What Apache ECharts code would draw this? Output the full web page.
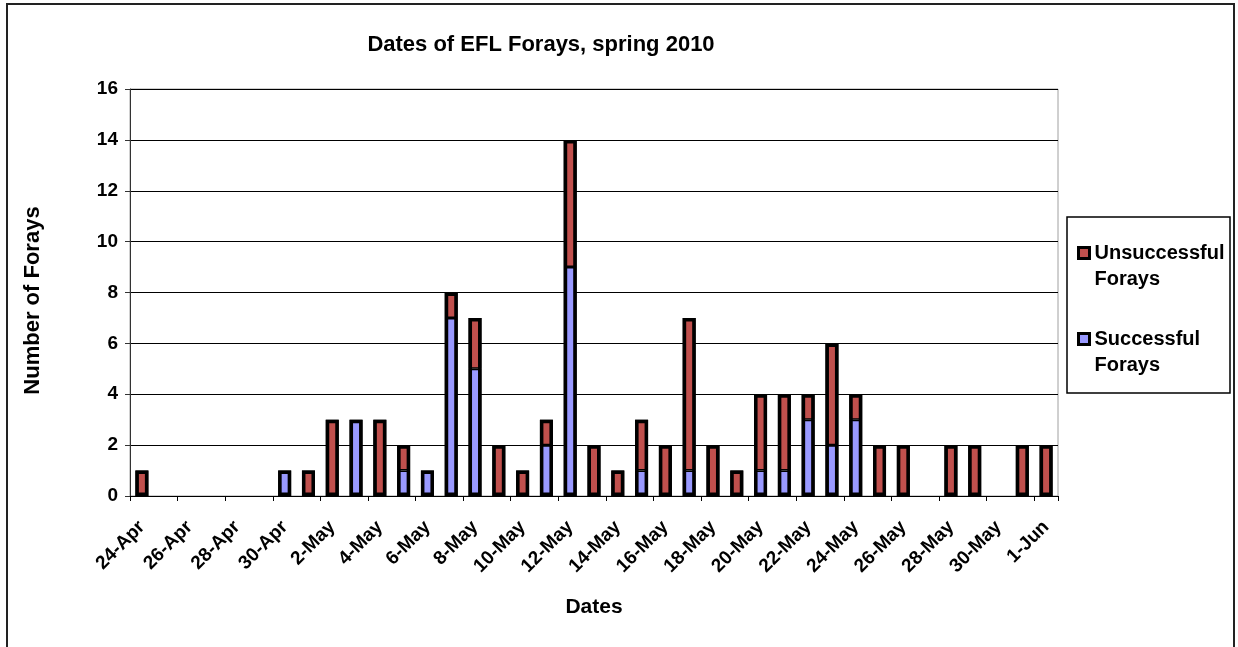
<!DOCTYPE html>
<html>
<head>
<meta charset="utf-8">
<script src="https://cdn.jsdelivr.net/npm/echarts@6/dist/echarts.min.js"></script>
<style>
  html, body { margin: 0; padding: 0; background: #fff; }
  #chart { width: 1238px; height: 647px; }
</style>
</head>
<body>
<div id="chart"></div>
<script>
// one category per day, 24-Apr .. 1-Jun 2010
var days = [
  "24-Apr", "25-Apr", "26-Apr", "27-Apr", "28-Apr", "29-Apr", "30-Apr",
  "1-May", "2-May", "3-May", "4-May", "5-May", "6-May", "7-May", "8-May",
  "9-May", "10-May", "11-May", "12-May", "13-May", "14-May", "15-May",
  "16-May", "17-May", "18-May", "19-May", "20-May", "21-May", "22-May",
  "23-May", "24-May", "25-May", "26-May", "27-May", "28-May", "29-May",
  "30-May", "31-May", "1-Jun"
];
var successful = [
  0, 0, 0, 0, 0, 0, 1,
  0, 0, 3, 0, 1, 1, 7, 5,
  0, 0, 2, 9, 0, 0, 1,
  0, 1, 0, 0, 1, 1, 3,
  2, 3, 0, 0, 0, 0, 0,
  0, 0, 0
];
var unsuccessful = [
  1, 0, 0, 0, 0, 0, 0,
  1, 3, 0, 3, 1, 0, 1, 2,
  2, 1, 1, 5, 2, 1, 2,
  2, 6, 2, 1, 3, 3, 1,
  4, 1, 2, 2, 0, 2, 2,
  0, 2, 2
];
var yTicks = [0, 2, 4, 6, 8, 10, 12, 14, 16];

var font = "'Liberation Sans', Arial, sans-serif";
var blank = function (v) { return v === 0 ? null : v; };
// outline drawn over each whole stack, so the outer edge is thick and the split thin
var totals = successful.map(function (v, i) { return v + unsuccessful[i]; });

var chart = echarts.init(document.getElementById("chart"));
chart.setOption({
  animation: false,
  backgroundColor: "#fff",
  textStyle: { fontFamily: font },
  title: {
    text: "Dates of EFL Forays, spring 2010",
    left: 536,
    top: 29,
    textAlign: "center",
    textStyle: { fontSize: 22, fontWeight: "bold", color: "#000", fontFamily: font }
  },
  graphic: [
    {
      type: "rect",
      shape: { x: 7, y: 4, width: 1227, height: 700 },
      style: { fill: null, stroke: "#222", lineWidth: 2 },
      silent: true
    },
    {
      type: "rect",
      shape: { x: 1067, y: 217, width: 163, height: 176 },
      style: { fill: "#fff", stroke: "#000", lineWidth: 1.5 },
      silent: true,
      z: 0
    }
  ],
  legend: {
    orient: "vertical",
    left: 1077,
    top: 214,
    padding: 0,
    itemGap: 8,
    itemWidth: 11,
    itemHeight: 11,
    icon: "rect",
    data: ["Unsuccessful Forays", "Successful Forays"],
    formatter: function (name) { return "\n" + name.replace(" ", "\n"); },
    itemStyle: { borderColor: "#000", borderWidth: 3 },
    textStyle: { fontSize: 20, fontWeight: "bold", color: "#000", lineHeight: 26, fontFamily: font },
    z: 5
  },
  grid: {
    left: 130,
    right: 180,
    top: 89,
    bottom: 151,
    show: true,
    borderColor: "#a0a0a0",
    borderWidth: 1,
    backgroundColor: "#fff"
  },
  xAxis: {
    type: "category",
    data: days,
    name: "Dates",
    nameLocation: "middle",
    nameGap: 101,
    nameTextStyle: { fontSize: 21, fontWeight: "bold", color: "#000" },
    axisLine: { lineStyle: { color: "#000", width: 1 } },
    axisTick: { show: true, interval: 1, length: 5, lineStyle: { color: "#000" } },
    axisLabel: {
      interval: 1,
      rotate: 45,
      margin: 28,
      fontSize: 19,
      fontWeight: "bold",
      color: "#000"
    },
    splitLine: { show: false }
  },
  yAxis: {
    type: "value",
    min: 0,
    max: 16,
    interval: 2,
    name: "Number of Forays",
    nameLocation: "middle",
    nameGap: 86,
    nameTextStyle: { fontSize: 22, fontWeight: "bold", color: "#000", padding: [0, 16, 0, 0] },
    axisLine: { show: true, lineStyle: { color: "#333", width: 1 } },
    axisTick: { show: true, length: 5, lineStyle: { color: "#333" } },
    axisLabel: {
      margin: 12,
      fontSize: 19,
      fontWeight: "bold",
      color: "#000",
      formatter: function (v) { return yTicks.indexOf(v) >= 0 ? String(v) : ""; }
    },
    splitLine: { show: true, lineStyle: { color: "#000", width: 1 } }
  },
  series: [
    {
      name: "Successful Forays",
      type: "bar",
      stack: "forays",
      barWidth: 13,
      data: successful.map(blank),
      itemStyle: { color: "#9999FF", borderColor: "#000", borderWidth: 1.5 }
    },
    {
      name: "Unsuccessful Forays",
      type: "bar",
      stack: "forays",
      barWidth: 13,
      barGap: "-100%",
      data: unsuccessful.map(blank),
      itemStyle: { color: "#C0504D", borderColor: "#000", borderWidth: 1.5 }
    },
    {
      name: "outline",
      type: "bar",
      barWidth: 13,
      barGap: "-100%",
      silent: true,
      data: totals.map(blank),
      itemStyle: { color: "rgba(0,0,0,0)", borderColor: "#000", borderWidth: 3.5 },
      z: 3
    }
  ]
});
</script>
</body>
</html>
